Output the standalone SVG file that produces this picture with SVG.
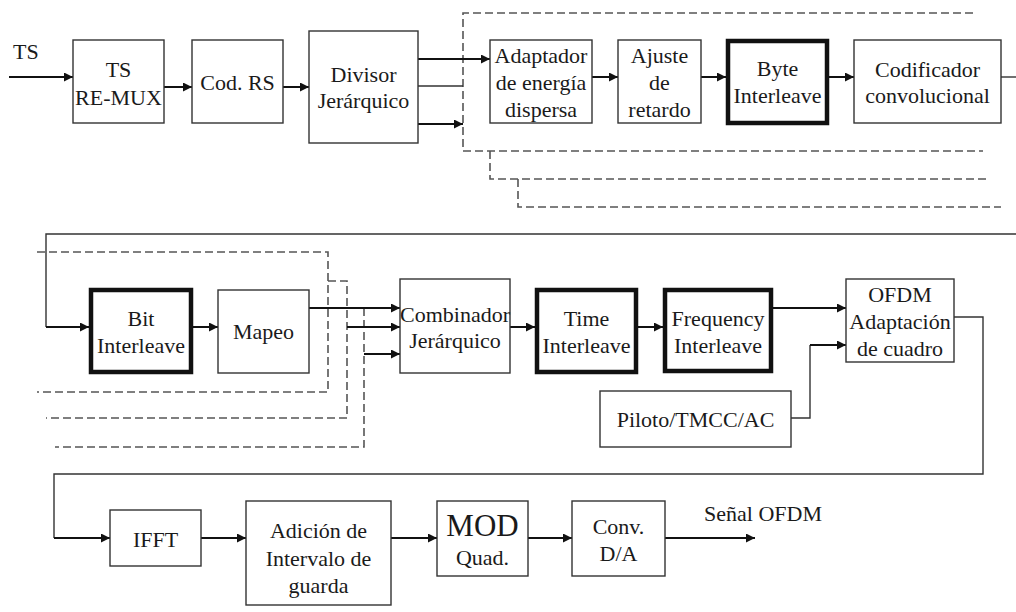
<svg xmlns="http://www.w3.org/2000/svg" width="1016" height="612" viewBox="0 0 1016 612">
<style>
.box{fill:#fff;stroke:#333;stroke-width:1.4}
.thick{fill:#fff;stroke:#111;stroke-width:4.5}
text{font-family:'Liberation Serif','DejaVu Serif',serif;fill:#1a1a1a}
.t{font-size:22px;text-anchor:middle}
.lbl{font-size:22px}
.c{fill:none;stroke:#111;stroke-width:2}
.thin{fill:none;stroke:#333;stroke-width:1.4}
.d{fill:none;stroke:#555;stroke-width:1.6;stroke-dasharray:8 4}
</style>
<defs>
<marker id="ah" markerUnits="userSpaceOnUse" markerWidth="10" markerHeight="10" refX="9" refY="4.5" orient="auto">
<path d="M0,0 L9,4.5 L0,9 Z" fill="#111"/>
</marker>
</defs>
<rect width="1016" height="612" fill="#fff"/>
<g id="dashed">
<path class="d" d="M973,13 H463 V151 H983"/>
<path class="d" d="M490,151 V179 H989"/>
<path class="d" d="M518,179 V207 H1001"/>
<path class="d" d="M37,252 H328 V392 H37"/>
<path class="d" d="M328,281 H347 V418 H46"/>
<path class="d" d="M364,308 V447 H55"/>
</g>
<g id="connectors">
<path class="c" d="M9,77 H73" marker-end="url(#ah)"/>
<path class="c" d="M164,87 H192" marker-end="url(#ah)"/>
<path class="c" d="M283,87 H309" marker-end="url(#ah)"/>
<path class="c" d="M418,59 H490" marker-end="url(#ah)"/>
<path class="thin" d="M418,86 H463"/>
<path class="c" d="M418,124 H463" marker-end="url(#ah)"/>
<path class="c" d="M592,77 H618" marker-end="url(#ah)"/>
<path class="c" d="M701,77 H726" marker-end="url(#ah)"/>
<path class="c" d="M829,77 H854" marker-end="url(#ah)"/>
<path class="thin" d="M1001,77 H1016"/>
<path class="thin" d="M1016,234 H46 V327"/>
<path class="c" d="M46,327 H89" marker-end="url(#ah)"/>
<path class="c" d="M193,327 H218" marker-end="url(#ah)"/>
<path class="c" d="M309,308 H400" marker-end="url(#ah)"/>
<path class="c" d="M347,327 H400" marker-end="url(#ah)"/>
<path class="c" d="M364,354 H400" marker-end="url(#ah)"/>
<path class="c" d="M510,327 H535" marker-end="url(#ah)"/>
<path class="c" d="M638,327 H663" marker-end="url(#ah)"/>
<path class="c" d="M773,308 H846" marker-end="url(#ah)"/>
<path class="thin" d="M791,418 H810 V345"/>
<path class="c" d="M810,345 H846" marker-end="url(#ah)"/>
<path class="thin" d="M954,317 H983 V474 H54 V538"/>
<path class="c" d="M54,538 H110" marker-end="url(#ah)"/>
<path class="c" d="M201,538 H246" marker-end="url(#ah)"/>
<path class="c" d="M391,538 H437" marker-end="url(#ah)"/>
<path class="c" d="M528,538 H572" marker-end="url(#ah)"/>
<path class="c" d="M665,538 H755" marker-end="url(#ah)"/>
</g>
<g id="labels">
<text class="lbl" x="13" y="59">TS</text>
<text class="lbl" x="704" y="521">Señal OFDM</text>
</g>
<g id="tsremux"><rect class="box" x="73" y="40" width="91" height="83"/><text class="t" x="118.5" y="77">TS</text><text class="t" x="118.5" y="105">RE-MUX</text></g>
<g id="codrs"><rect class="box" x="192" y="40" width="91" height="83"/><text class="t" x="237.5" y="90">Cod. RS</text></g>
<g id="divisor"><rect class="box" x="309" y="31" width="109" height="112"/><text class="t" x="363.5" y="82">Divisor</text><text class="t" x="363.5" y="108">Jerárquico</text></g>
<g id="adaptador"><rect class="box" x="490" y="40" width="102" height="83"/><text class="t" x="541" y="63">Adaptador</text><text class="t" x="541" y="90">de energía</text><text class="t" x="541" y="116.5">dispersa</text></g>
<g id="ajuste"><rect class="box" x="618" y="40" width="83" height="83"/><text class="t" x="659.5" y="63">Ajuste</text><text class="t" x="659.5" y="90">de</text><text class="t" x="659.5" y="116.5">retardo</text></g>
<g id="byte"><rect class="thick" x="728" y="41" width="99" height="82"/><text class="t" x="777.5" y="76">Byte</text><text class="t" x="777.5" y="103">Interleave</text></g>
<g id="codificador"><rect class="box" x="854" y="40" width="147" height="83"/><text class="t" x="927.5" y="77">Codificador</text><text class="t" x="927.5" y="103">convolucional</text></g>
<g id="bit"><rect class="thick" x="91" y="290" width="100" height="82"/><text class="t" x="141" y="326">Bit</text><text class="t" x="141" y="352.5">Interleave</text></g>
<g id="mapeo"><rect class="box" x="218" y="290" width="91" height="83"/><text class="t" x="263.5" y="339">Mapeo</text></g>
<g id="combinador"><rect class="box" x="400" y="279" width="110" height="94"/><text class="t" x="455" y="321.5">Combinador</text><text class="t" x="455" y="347.5">Jerárquico</text></g>
<g id="time"><rect class="thick" x="537" y="290" width="99" height="82"/><text class="t" x="586.5" y="325.5">Time</text><text class="t" x="586.5" y="352.5">Interleave</text></g>
<g id="frequency"><rect class="thick" x="665" y="290" width="106" height="81"/><text class="t" x="718" y="325.5">Frequency</text><text class="t" x="718" y="352.5">Interleave</text></g>
<g id="ofdm"><rect class="box" x="846" y="279" width="108" height="83"/><text class="t" x="900" y="302">OFDM</text><text class="t" x="900" y="329">Adaptación</text><text class="t" x="900" y="356">de cuadro</text></g>
<g id="piloto"><rect class="box" x="600" y="391" width="191" height="56"/><text class="t" x="695.5" y="426.5">Piloto/TMCC/AC</text></g>
<g id="ifft"><rect class="box" x="110" y="510" width="91" height="56"/><text class="t" x="155.5" y="547">IFFT</text></g>
<g id="adicion"><rect class="box" x="246" y="501" width="145" height="104"/><text class="t" x="318.5" y="538">Adición de</text><text class="t" x="318.5" y="566">Intervalo de</text><text class="t" x="318.5" y="592.5">guarda</text></g>
<g id="mod"><rect class="box" x="437" y="501" width="91" height="75"/><text class="t" x="482.5" y="536" style="font-size:31px">MOD</text><text class="t" x="482.5" y="565">Quad.</text></g>
<g id="conv"><rect class="box" x="572" y="501" width="93" height="75"/><text class="t" x="618.5" y="534">Conv.</text><text class="t" x="618.5" y="560.5">D/A</text></g>
</svg>
